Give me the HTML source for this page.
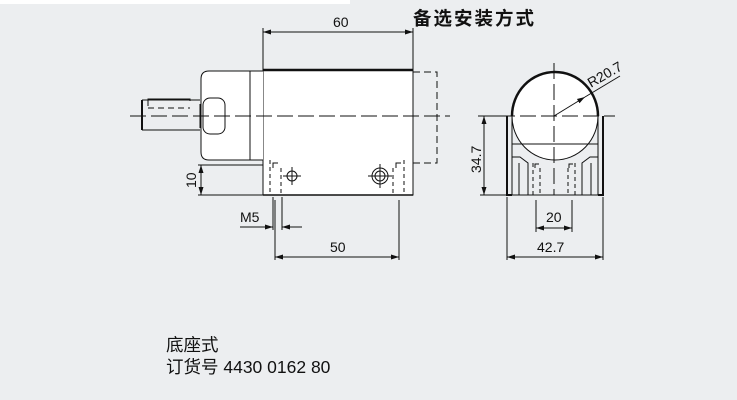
<!DOCTYPE html>
<html><head><meta charset="utf-8"><style>
html,body{margin:0;padding:0;background:#eceef0;}
svg{display:block}
text{font-family:"Liberation Sans","Noto Sans CJK SC",sans-serif;fill:#111}
</style></head><body>
<svg width="737" height="400" viewBox="0 0 737 400" xmlns="http://www.w3.org/2000/svg">
<defs>
<marker id="a" markerWidth="8" markerHeight="6" refX="8" refY="3" orient="auto" markerUnits="userSpaceOnUse"><path d="M0,0.5 L8,3 L0,5.5z" fill="#111"/></marker>
</defs>
<rect x="0" y="0" width="350" height="4" fill="#fff"/>
<text x="413" y="25" font-size="18.5" font-weight="bold" letter-spacing="2">备选安装方式</text>
<g stroke="#111" fill="none" stroke-width="1">
<rect x="263" y="70" width="150" height="125" fill="#fff"/>
<line x1="263" y1="70" x2="413" y2="70" stroke-width="2.5"/>
<line x1="263" y1="195" x2="413" y2="195" stroke-width="1.5"/>
<path d="M263,71 H209 Q201,71 201,79 V152 Q201,160 209,160 H263" fill="#fff"/>
<line x1="250" y1="71" x2="250" y2="160"/>
<rect x="203" y="98" width="22" height="36" rx="7" fill="#fff"/>
<path d="M200,104 V128 M142,100 H200 M142,130 H200 M142,100 V130" />
<line x1="142" y1="100" x2="142" y2="130" stroke-width="2"/>
<path d="M148,106 V99 H190 V101"/>
<line x1="148" y1="108" x2="190" y2="108" stroke-dasharray="6,4"/>
<line x1="130" y1="116" x2="450" y2="116" stroke-dasharray="16,5"/>
<path d="M413,72 H437 V163 H413" stroke-dasharray="7,4"/>
<path d="M270,160 V195 M281,168 V195 M393,168 V195 M404,160 V195" stroke-dasharray="4,3"/>
<path d="M273,168 V163 H278 M396,168 V163 H401"/>
<circle cx="292" cy="176" r="5"/><path d="M283,176 H301 M292,167 V185"/>
<circle cx="380" cy="176" r="8"/><circle cx="380" cy="176" r="5"/><path d="M368,176 H392 M380,164 V188"/>
<path d="M263,70 V28 M413,70 V28"/>
<line x1="300" y1="32" x2="263" y2="32" marker-end="url(#a)"/>
<line x1="300" y1="32" x2="413" y2="32" marker-end="url(#a)"/>
<path d="M198,165 H263 M198,195 H263"/>
<line x1="201" y1="180" x2="201" y2="165" marker-end="url(#a)"/>
<line x1="201" y1="180" x2="201" y2="195" marker-end="url(#a)"/>
<path d="M273,197 V230 M282,197 V230"/>
<line x1="240" y1="227" x2="273" y2="227" marker-end="url(#a)"/>
<line x1="302" y1="227" x2="282" y2="227" marker-end="url(#a)"/>
<path d="M275,200 V260 M399,200 V260"/>
<line x1="337" y1="257" x2="275" y2="257" marker-end="url(#a)"/>
<line x1="337" y1="257" x2="399" y2="257" marker-end="url(#a)"/>
<path d="M512,116 A43,44 0 0 1 598,116" stroke-width="2.5" fill="#fff"/>
<path d="M512,116 A43,44 0 0 0 598,116" fill="#fff"/>
<path d="M507,116 V195 H512 M603,116 V195 H598" stroke-width="2"/>
<path d="M512,116 V195 M598,116 V195"/>
<path d="M512,144 H598 M512,157 H520 L528,163 V195 M598,157 H590 L582,163 V195 M512,195 H598"/>
<path d="M519,163 V195 M591,163 V195"/>
<path d="M533,163 V195 M540,168 V195 M568,168 V195 M575,163 V195" stroke-dasharray="4,3"/>
<path d="M535,168 V164 H539 M569,168 V164 H573"/>
<line x1="554" y1="63" x2="554" y2="195" stroke-dasharray="16,5"/>
<line x1="478" y1="116" x2="615" y2="116" stroke-dasharray="16,5"/>
<line x1="554" y1="116" x2="585" y2="97" marker-end="url(#a)"/>
<line x1="585" y1="97" x2="620" y2="76"/>
<path d="M480,116 H507 M480,195 H507"/>
<line x1="484" y1="155" x2="484" y2="116" marker-end="url(#a)"/>
<line x1="484" y1="155" x2="484" y2="195" marker-end="url(#a)"/>
<path d="M536,200 V232 M572,200 V232"/>
<line x1="554" y1="228" x2="536" y2="228" marker-end="url(#a)"/>
<line x1="554" y1="228" x2="572" y2="228" marker-end="url(#a)"/>
<path d="M507,197 V260 M603,197 V260"/>
<line x1="555" y1="257" x2="507" y2="257" marker-end="url(#a)"/>
<line x1="555" y1="257" x2="603" y2="257" marker-end="url(#a)"/>
</g>
<g font-size="14">
<text x="333" y="27">60</text>
<text x="330" y="252">50</text>
<text x="240" y="222">M5</text>
<text transform="translate(196,188) rotate(-90)">10</text>
<text transform="translate(481,173) rotate(-90)">34.7</text>
<text x="546" y="222">20</text>
<text x="537" y="252">42.7</text>
<text transform="translate(591,88) rotate(-30)">R20.7</text>
</g>
<text x="166" y="351" font-size="17.5">底座式</text>
<text x="166" y="373" font-size="17.5">订货号 4430 0162 80</text>
</svg>
</body></html>
